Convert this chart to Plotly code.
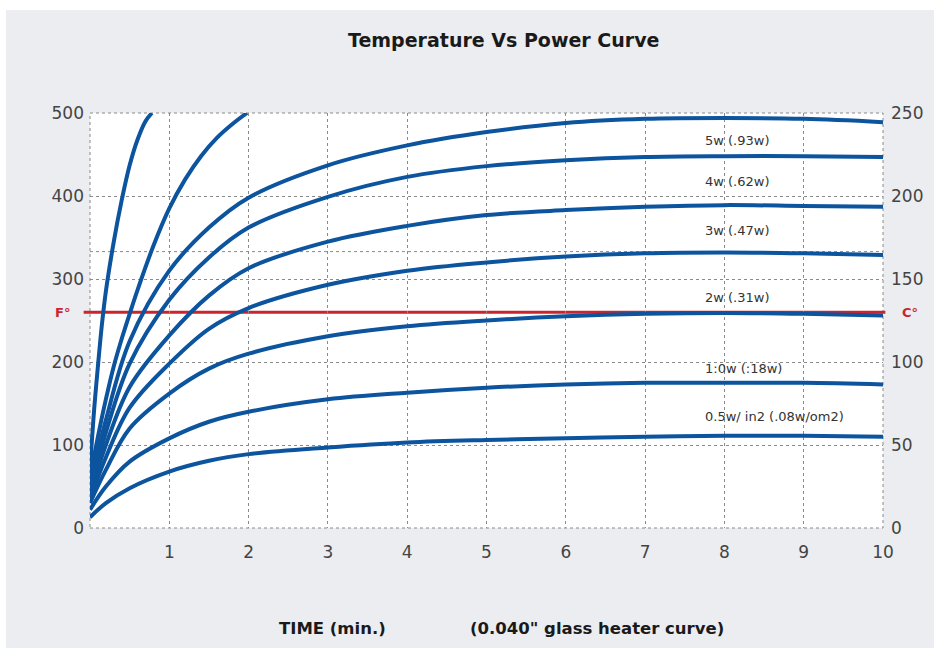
import plotly.graph_objects as go

# ---------------- data ----------------
time_main = [0, 0.2, 0.5, 1, 1.5, 2, 3, 4, 5, 6, 7, 8, 9, 10]
temp_5w = [50, 130, 225, 310, 362, 398, 437, 461, 477, 488, 493, 494, 493, 489]
temp_4w = [45, 115, 198, 275, 326, 362, 399, 423, 436, 443, 447, 448, 448, 447]
temp_3w = [40, 100, 170, 232, 280, 313, 345, 364, 377, 383, 387, 389, 388, 387]
temp_2w = [35, 85, 145, 198, 240, 265, 293, 310, 320, 327, 331, 332, 331, 329]
temp_1w = [30, 70, 120, 162, 192, 210, 231, 243, 250, 255, 258, 259, 258, 256]
temp_05w = [22, 50, 80, 108, 128, 140, 155, 163, 169, 173, 175, 175, 175, 173]
temp_low = [13, 30, 48, 68, 81, 89, 97, 103, 106, 108, 110, 111, 111, 110]

time_fast = [0, 0.05, 0.1, 0.15, 0.2, 0.3, 0.4, 0.5, 0.6, 0.7, 0.78]
temp_fast = [70, 140, 195, 245, 285, 345, 395, 437, 468, 490, 500]
time_fast2 = [0, 0.1, 0.2, 0.3, 0.4, 0.5, 0.6, 0.8, 1.0, 1.2, 1.4, 1.6, 1.8, 1.98]
temp_fast2 = [60, 110, 155, 195, 228, 258, 287, 340, 385, 420, 448, 470, 487, 500]

curve_labels = ["5w (.93w)", "4w (.62w)", "3w (.47w)", "2w (.31w)", "1:0w (:18w)", "0.5w/ in2 (.08w/om2)"]
label_y = [467, 417, 358, 278, 192, 134]
label_x = 7.73

x_ticks = [1, 2, 3, 4, 5, 6, 7, 8, 9, 10]
f_ticks = [0, 100, 200, 300, 400, 500]
c_ticks = [0, 50, 100, 150, 200, 250]
ref_temp = 260
extra_grid = 333
y_max = 500

# ---------------- figure ----------------
BLUE = "#0C549E"
RED = "#C9252F"
GRID = "#8a8a8a"
FONT = "DejaVu Sans"

fig = go.Figure()
series = [
    (time_fast, temp_fast), (time_fast2, temp_fast2),
    (time_main, temp_5w), (time_main, temp_4w), (time_main, temp_3w),
    (time_main, temp_2w), (time_main, temp_1w), (time_main, temp_05w), (time_main, temp_low),
]
for xs, ys in series:
    fig.add_trace(go.Scatter(x=xs, y=ys, mode="lines",
                             line=dict(color=BLUE, width=4, shape="spline", smoothing=1.0),
                             showlegend=False, hoverinfo="skip"))

# invisible trace to activate right axis
fig.add_trace(go.Scatter(x=[0], y=[0], yaxis="y2", mode="markers",
                         marker=dict(opacity=0), showlegend=False, hoverinfo="skip"))

shapes = [
    dict(type="rect", xref="paper", yref="paper", x0=-0.106, x1=1.07, y0=-0.289, y1=1.248,
         fillcolor="#ECEDF1", line=dict(width=0), layer="below"),
    dict(type="rect", xref="paper", yref="paper", x0=0, x1=1, y0=0, y1=1,
         fillcolor="white", line=dict(color=GRID, width=1, dash="dot"), layer="below"),
    dict(type="line", xref="paper", yref="paper", x0=0, x1=1,
         y0=extra_grid / y_max, y1=extra_grid / y_max,
         line=dict(color=GRID, width=1, dash="dot"), layer="below"),
    dict(type="line", xref="paper", yref="paper", x0=-0.008, x1=1.003,
         y0=ref_temp / y_max, y1=ref_temp / y_max,
         line=dict(color=RED, width=3), layer="below"),
]

annotations = []
for t, yv in zip(curve_labels, label_y):
    annotations.append(dict(x=label_x, y=yv, xref="x", yref="y", text=t, showarrow=False,
                            xanchor="left", yanchor="middle",
                            font=dict(family=FONT, size=13, color="#333333")))
annotations += [
    dict(x=0.521, y=1.176, xref="paper", yref="paper", text="<b>Temperature Vs Power Curve</b>",
         showarrow=False, xanchor="center", yanchor="middle",
         font=dict(family=FONT, size=19, color="#1a1a1a")),
    dict(x=0.306, y=-0.241, xref="paper", yref="paper", text="<b>TIME (min.)</b>",
         showarrow=False, xanchor="center", yanchor="middle",
         font=dict(family=FONT, size=16.5, color="#1a1a1a")),
    dict(x=0.639, y=-0.241, xref="paper", yref="paper", text="<b>(0.040\" glass heater curve)</b>",
         showarrow=False, xanchor="center", yanchor="middle",
         font=dict(family=FONT, size=16.5, color="#1a1a1a")),
    dict(x=-0.035, y=ref_temp / y_max, xref="paper", yref="paper", text="<b>F°</b>",
         showarrow=False, xanchor="center", yanchor="middle",
         font=dict(family=FONT, size=13, color=RED)),
    dict(x=1.034, y=ref_temp / y_max, xref="paper", yref="paper", text="<b>C°</b>",
         showarrow=False, xanchor="center", yanchor="middle",
         font=dict(family=FONT, size=13, color=RED)),
]

fig.update_layout(
    width=934, height=652,
    margin=dict(l=90, r=51, t=113, b=124),
    paper_bgcolor="white", plot_bgcolor="rgba(0,0,0,0)",
    shapes=shapes, annotations=annotations,
    xaxis=dict(range=[0, 10], tickvals=x_ticks, ticks="", showgrid=True,
               gridcolor=GRID, griddash="dot", gridwidth=1, zeroline=False,
               tickfont=dict(family=FONT, size=17, color="#444444"),
               ticklabelstandoff=12, fixedrange=True),
    yaxis=dict(range=[0, y_max], tickvals=f_ticks, ticks="", showgrid=True,
               gridcolor=GRID, griddash="dot", gridwidth=1, zeroline=False,
               tickfont=dict(family=FONT, size=17, color="#444444"),
               ticklabelstandoff=5, fixedrange=True),
    yaxis2=dict(range=[0, 250], tickvals=c_ticks, overlaying="y", side="right",
                showgrid=False, zeroline=False, ticks="",
                tickfont=dict(family=FONT, size=17, color="#444444"),
                ticklabelstandoff=7, fixedrange=True),
)

fig.write_html("out.html", config={"displayModeBar": False})
